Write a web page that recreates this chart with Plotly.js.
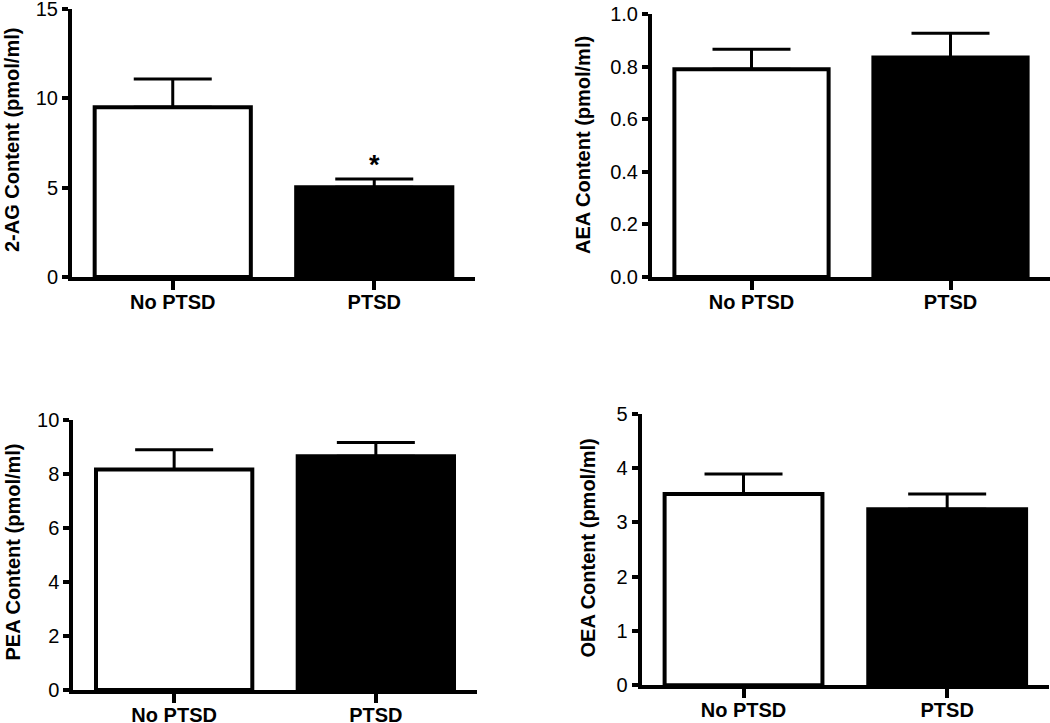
<!DOCTYPE html>
<html>
<head>
<meta charset="utf-8">
<script src="https://cdn.plot.ly/plotly-3.0.1.min.js"></script>
<style>html,body{margin:0;padding:0;background:#fff;}#chart{width:1050px;height:723px;}</style>
</head>
<body>
<div id="chart"></div>
<script>
// ---- data ----
const categories = ['No PTSD', 'PTSD'];
const ag2Means = [9.48, 5.02];
const ag2Sem   = [1.58, 0.46];
const aeaMeans = [0.79, 0.835];
const aeaSem   = [0.076, 0.092];
const peaMeans = [8.16, 8.65];
const peaSem   = [0.73, 0.51];
const oeaMeans = [3.52, 3.24];
const oeaSem   = [0.37, 0.28];
const yTitles  = ['2-AG Content (pmol/ml)', 'AEA Content (pmol/ml)', 'PEA Content (pmol/ml)', 'OEA Content (pmol/ml)'];
const yMax     = [15, 1.0, 10, 5];
const yDtick   = [5, 0.2, 2, 1];
const sigMarks = ['', '*'];  // 2-AG panel only

// ---- layout helpers ----
const W = 1050, H = 723;
const FONT = '"Liberation Sans", Arial, Helvetica, sans-serif';
// pixel boxes: [xLeft, xRight, yZeroPx, yTopPx]
const boxes = [
  [72, 475, 277, 8.5],
  [652, 1050, 277, 14],
  [73.3, 476.7, 690, 419.7],
  [641.7, 1049, 685.3, 413.7]
];
const titleCenters = [[12, 140], [583, 145], [12.5, 552], [587.5, 548]];
const meansList = [ag2Means, aeaMeans, peaMeans, oeaMeans];
const semList = [ag2Sem, aeaSem, peaSem, oeaSem];

const traces = [];
const layout = {
  width: W, height: H,
  margin: {l: 0, r: 0, t: 0, b: 0},
  paper_bgcolor: 'white', plot_bgcolor: 'rgba(0,0,0,0)',
  showlegend: false,
  bargap: 0.225,
  font: {family: FONT, color: 'black'},
  annotations: []
};

for (let i = 0; i < 4; i++) {
  const sfx = i === 0 ? '' : String(i + 1);
  traces.push({
    type: 'bar',
    x: categories,
    y: meansList[i],
    xaxis: 'x' + sfx, yaxis: 'y' + sfx,
    marker: {color: ['white', 'black'], line: {color: 'black', width: 4}},
    error_y: {type: 'data', symmetric: false, array: semList[i], arrayminus: [0, 0],
              color: 'black', thickness: 3, width: 39},
    hoverinfo: 'skip',
    cliponaxis: false
  });
  const b = boxes[i];
  layout['xaxis' + sfx] = {
    domain: [b[0] / W, b[1] / W],
    anchor: 'y' + sfx,
    type: 'category',
    range: [-0.5, 1.5],
    showline: true, linecolor: 'black', linewidth: 4,
    ticks: 'outside', ticklen: 9, tickwidth: 4, tickcolor: 'black',
    ticklabelstandoff: -5,
    ticklabeloverflow: 'allow',
    tickfont: {family: FONT, size: 20, weight: 'bold', color: 'black'},
    showgrid: false, zeroline: false, fixedrange: true
  };
  layout['yaxis' + sfx] = {
    domain: [(H - b[2]) / H, (H - b[3]) / H],
    anchor: 'x' + sfx,
    range: [0, yMax[i]],
    dtick: yDtick[i], tick0: 0,
    tickformat: i === 1 ? '.1f' : 'd',
    showline: true, linecolor: 'black', linewidth: 4,
    ticks: 'outside', ticklen: 6, tickwidth: 4, tickcolor: 'black',
    ticklabeloverflow: 'allow',
    tickfont: {family: FONT, size: 20, color: 'black'},
    showgrid: false, zeroline: false, fixedrange: true
  };
  layout.annotations.push({
    xref: 'paper', yref: 'paper',
    x: titleCenters[i][0] / W, y: (H - titleCenters[i][1]) / H,
    xanchor: 'center', yanchor: 'middle',
    text: yTitles[i], textangle: -90, showarrow: false,
    font: {family: FONT, size: 20, weight: 'bold', color: 'black'}
  });
}

// significance asterisk above PTSD bar in 2-AG panel
categories.forEach((c, j) => {
  if (sigMarks[j]) {
    layout.annotations.push({
      xref: 'x', yref: 'y', x: c, y: ag2Means[j] + ag2Sem[j] + 0.75,
      xanchor: 'center', yanchor: 'middle', showarrow: false,
      text: sigMarks[j],
      font: {family: FONT, size: 27, weight: 'bold', color: 'black'}
    });
  }
});

Plotly.newPlot('chart', traces, layout, {displayModeBar: false, staticPlot: true});
</script>
</body>
</html>
